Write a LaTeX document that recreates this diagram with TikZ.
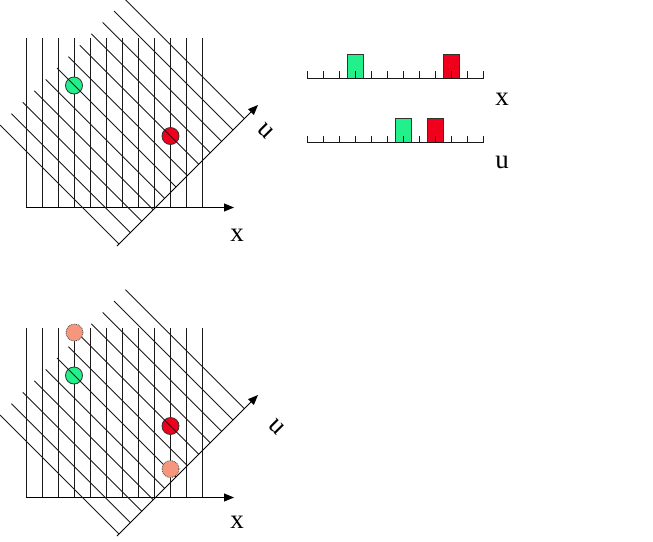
\documentclass[tikz,border=0pt]{standalone}
\usepackage{fontspec}
\setmainfont{Liberation Serif}
\usetikzlibrary{arrows.meta}
\definecolor{ptgreen}{RGB}{34,240,138}
\definecolor{ptred}{RGB}{240,0,28}
\definecolor{ptsalmon}{RGB}{245,150,125}
\tikzset{
  gridline/.style={line width=0.9pt, draw=black!90},
  axisline/.style={line width=1pt, -{Triangle[length=10pt,width=8pt]}},
  ptgreenc/.style={circle, minimum size=17pt, inner sep=0pt, fill=ptgreen, draw=black!80, line width=0.8pt},
  ptredc/.style={circle, minimum size=17pt, inner sep=0pt, fill=ptred, draw=black!80, line width=0.8pt},
  ptsalmonc/.style={circle, minimum size=17pt, inner sep=0pt, fill=ptsalmon, draw=black!70, densely dotted, line width=0.8pt},
  lbl/.style={font=\fontsize{27}{30}\selectfont, inner sep=0pt},
  barbox/.style={draw=black!80, line width=0.8pt},
}
\begin{document}
\begin{tikzpicture}[x=1pt,y=-1pt]
\useasboundingbox (0,0) rectangle (653,541);
% ---------- panels ----------
\foreach \dy/\salmon/\xl/\ul in {0/0/{237,235}/{266,131}, 290/1/{237,232}/{277,137}} {
  \begin{scope}[shift={(0,\dy)}]
    % vertical lines
    \foreach \i in {0,...,11} {
      \draw[gridline] ({26+16*\i},38) -- ({26+16*\i},207.5);
    }
    % x axis
    \coordinate (xo) at (26,207.5);
    \coordinate (xe) at (234,207.5);
    \draw[axisline] (xo) -- (xe);
    % circles
    \node[ptgreenc] (g) at (74,85.5) {};
    \node[ptredc] (r) at (170.5,136) {};
    % diagonal lines
    \foreach \k in {0,...,11} {
      \pgfmathsetmacro{\c}{125-22.8*\k}
      \draw[gridline] ({(125-\c)/2},{(125+\c)/2}) -- ({(363-\c)/2},{(363+\c)/2});
    }
    % u axis
    \coordinate (uo) at (117,246);
    \coordinate (ue) at (258,105);
    \draw[axisline] (uo) -- (ue);
    \ifnum\salmon=1
      \node[ptsalmonc] (s1) at (74.5,42.5) {};
      \node[ptsalmonc] (s2) at (170.5,179) {};
    \fi
    \node[lbl] (xl) at (\xl) {x};
    \node[lbl, rotate=-45] (ul) at (\ul) {u};
  \end{scope}
}
% ---------- histograms ----------
\foreach \ay/\gi/\ri/\lab/\ly in {78.3/3/9/x/99, 142.7/6/8/u/162} {
  \draw[barbox, fill=ptgreen] ({307.3+16*\gi-8},{\ay-24}) rectangle ({307.3+16*\gi+8},\ay);
  \draw[barbox, fill=ptred] ({307.3+16*\ri-8},{\ay-24}) rectangle ({307.3+16*\ri+8},\ay);
  \draw[gridline] (307.3,\ay) -- (484,\ay);
  \foreach \i in {0,...,11} {
    \draw[gridline] ({307.3+16*\i},\ay) -- ({307.3+16*\i},{\ay-7});
  }
  \node[lbl] at (502,\ly) {\lab};
}
\end{tikzpicture}
\end{document}
